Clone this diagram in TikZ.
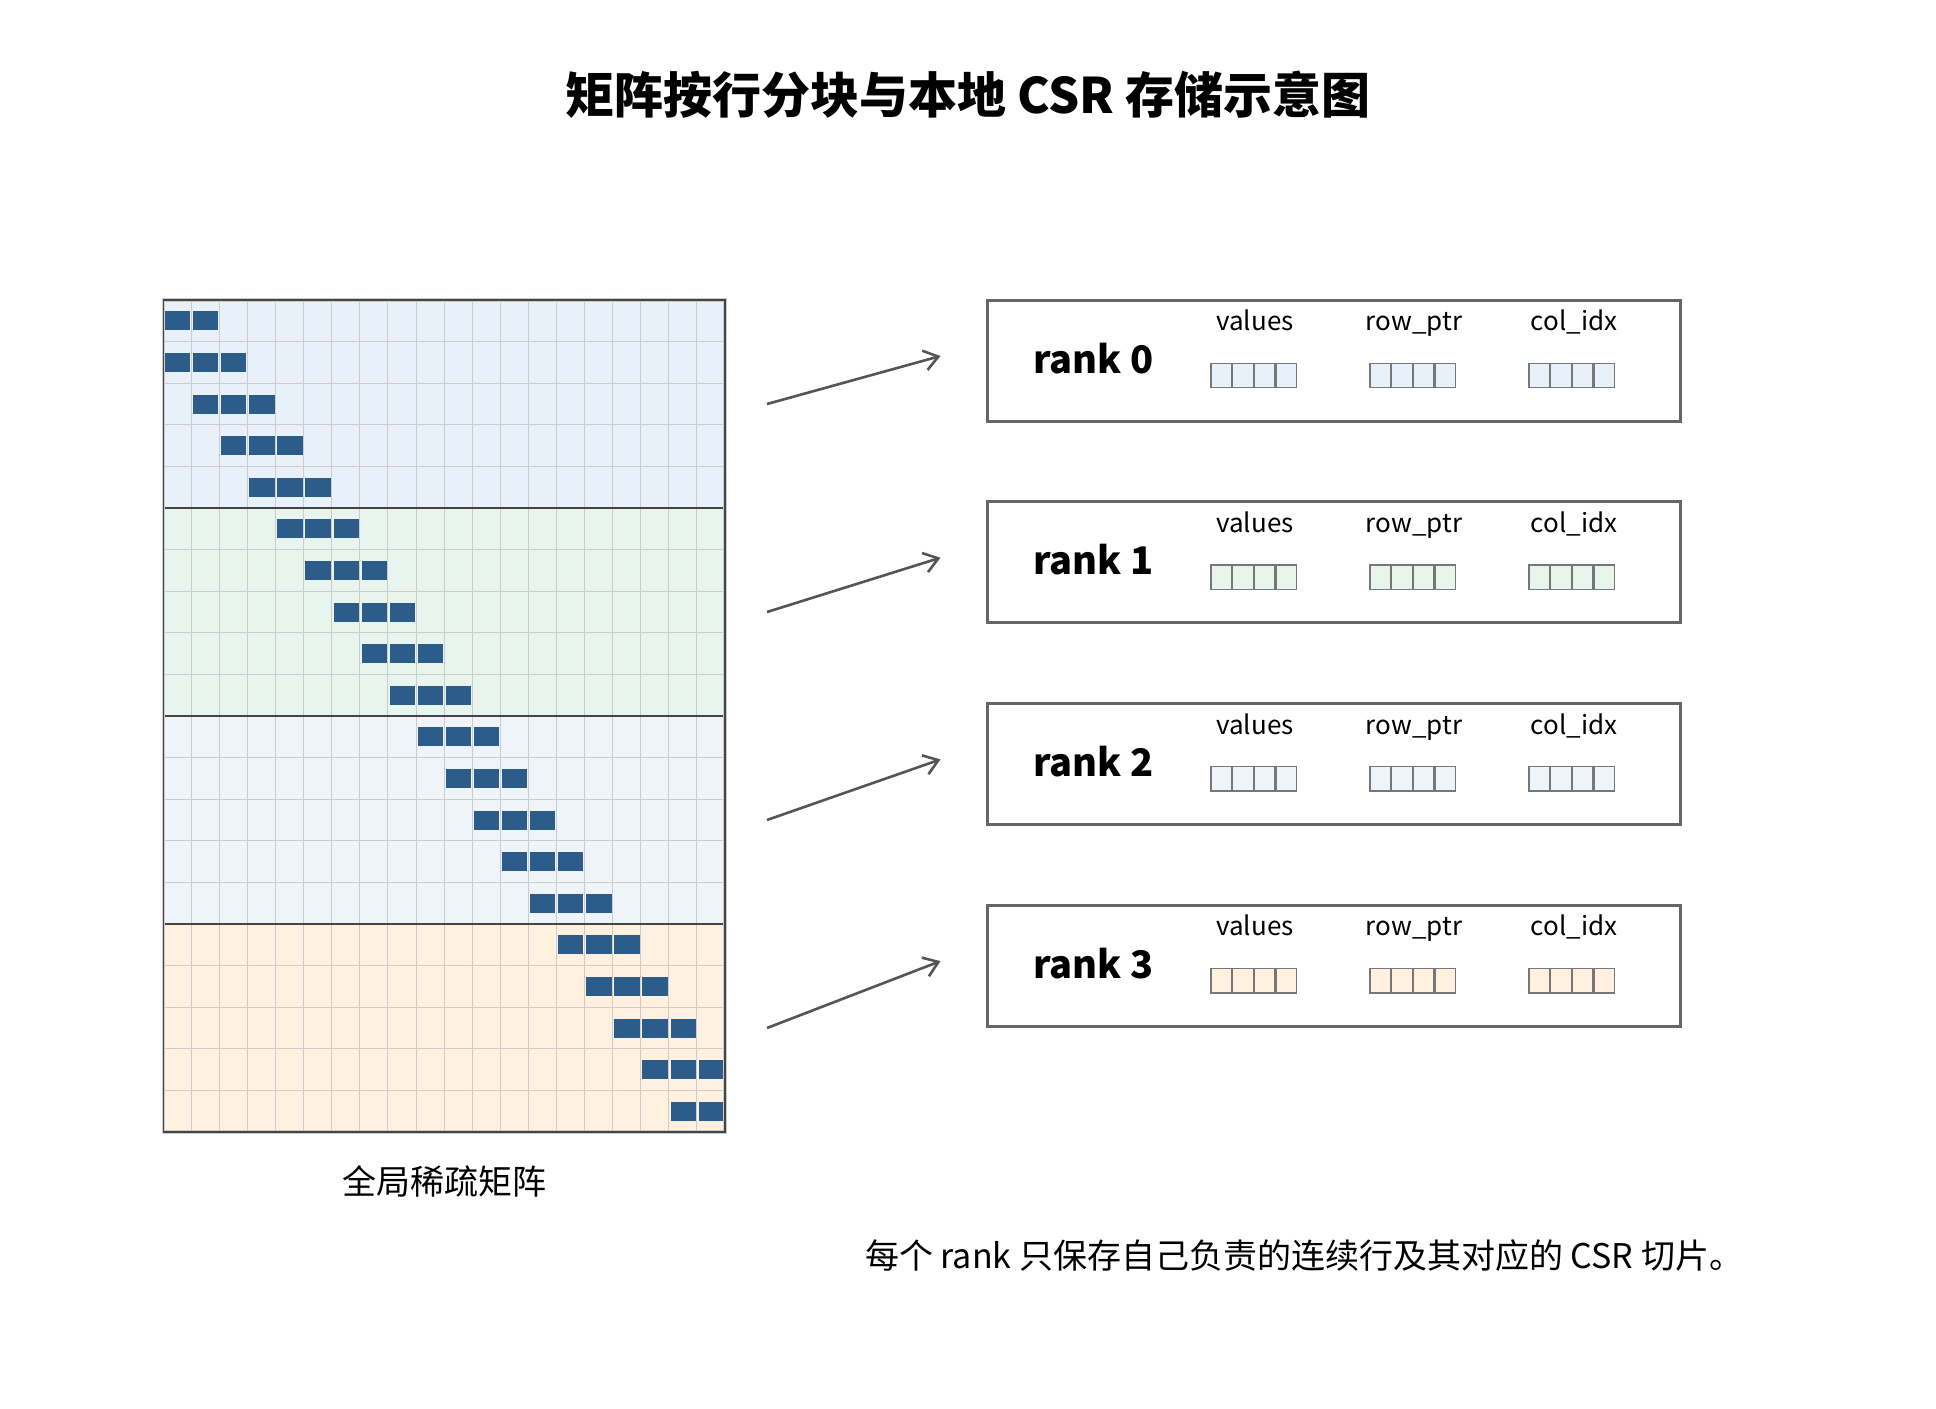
\documentclass[tikz,border=0pt]{standalone}
\usepackage{fontspec}
\setmainfont{Noto Sans CJK SC}
\usepackage{xcolor}
\usetikzlibrary{arrows.meta}
\definecolor{bgA}{HTML}{E8F0FA}
\definecolor{bgB}{HTML}{E8F5EE}
\definecolor{bgC}{HTML}{EFF3FA}
\definecolor{bgD}{HTML}{FFF0DF}
\definecolor{nzblue}{HTML}{2B5C8A}
\definecolor{gridgray}{HTML}{CCCCCC}
\definecolor{edgegray}{HTML}{444444}
\definecolor{boxgray}{HTML}{666666}
\definecolor{arrowgray}{HTML}{555555}
\definecolor{slotgray}{HTML}{777777}
\tikzset{
  gridline/.style  = { gridgray, line width=0.5pt },
  split/.style     = { edgegray, line width=0.8pt },
  nonzero/.style   = { fill=nzblue },
  rankbox/.style   = { draw=boxgray, line width=1.5pt, rectangle, minimum width=346.5pt, minimum height=60.5pt, inner sep=0pt },
  ranklabel/.style = { font=\fontsize{19pt}{23pt}\selectfont\bfseries, anchor=base west, inner sep=0pt },
  field/.style     = { font=\fontsize{13pt}{16pt}\selectfont, anchor=base, inner sep=0pt },
  slot/.style      = { draw=slotgray, line width=0.7pt },
  flow/.style      = { arrowgray, line width=1.3pt, -{Straight Barb[length=7pt,width=10pt]} },
  caption/.style   = { font=\fontsize{17pt}{20pt}\selectfont, inner sep=0pt }
}
\begin{document}
\begin{tikzpicture}[x=0.5pt,y=-0.5pt]
  \fill[white] (0,0) rectangle (1936,1408);
  \useasboundingbox (0,0) rectangle (1936,1408);
  % Draw title
  \node[font=\fontsize{24.5pt}{28pt}\selectfont\bfseries, inner sep=0pt] (title) at (968,95) {矩阵按行分块与本地 CSR 存储示意图};
  % Draw matrix blocks
  \foreach \b/\fillc in {0/bgA,1/bgB,2/bgC,3/bgD}
    \fill[\fillc] (163.3,300+208*\b) rectangle (725,508+208*\b);
  \foreach \c in {1,...,19}
    \draw[gridline] (163.3+28.085*\c,300) -- (163.3+28.085*\c,1132);
  \foreach \r in {1,...,19}
    \draw[gridline] (163.3,300+41.6*\r) -- (725,300+41.6*\r);
  % Draw nonzeros
  \foreach \r in {0,...,19}
    \foreach \d in {-1,0,1} {
      \pgfmathtruncatemacro\c{\r+\d}
      \ifnum\c>-1 \ifnum\c<20
        \fill[nonzero] (165+28.085*\c,311.3+41.6*\r) rectangle ++(25.3,19);
      \fi\fi
    }
  \foreach \b in {1,2,3}
    \draw[split] (163.3,300+208*\b) -- (725,300+208*\b);
  \draw[gridgray, line width=1.6pt] (163.3,300) rectangle (725,1132);
  \draw[edgegray, line width=0.8pt] (163.3,300) rectangle (725,1132);
  \node[caption] (matlabel) at (444,1181.7) {全局稀疏矩阵};
  % Draw rank boxes
  \foreach \i/\fillc in {0/bgA,1/bgB,2/bgC,3/bgD} {
    \pgfmathsetmacro\yc{360.5+201.7*\i}
    \node[rankbox] (rank\i) at (1333.5,\yc) {};
    \node[ranklabel] (ranklab\i) at (1033,\yc+12.5) {rank \i};
    \node[field] (values\i) at (1255,\yc-29.8) {values};
    \node[field] (rowptr\i) at (1414,\yc-29.8) {row\_ptr};
    \node[field] (colidx\i) at (1574,\yc-29.8) {col\_idx};
    \foreach \gx in {1211,1370,1529}
      \foreach \k in {0,...,3}
        \draw[slot, fill=\fillc] (\gx+21.7*\k,\yc+2.8) rectangle ++(20.5,24.4);
    \coordinate (src\i) at (767,404+208*\i);
    \draw[flow] (src\i) -- ([xshift=-22.5pt,yshift=2.25pt]rank\i.west);
  }
  % Draw note
  \node[caption] (note) at (1304,1256) {每个 rank 只保存自己负责的连续行及其对应的 CSR 切片。};
\end{tikzpicture}
\end{document}
